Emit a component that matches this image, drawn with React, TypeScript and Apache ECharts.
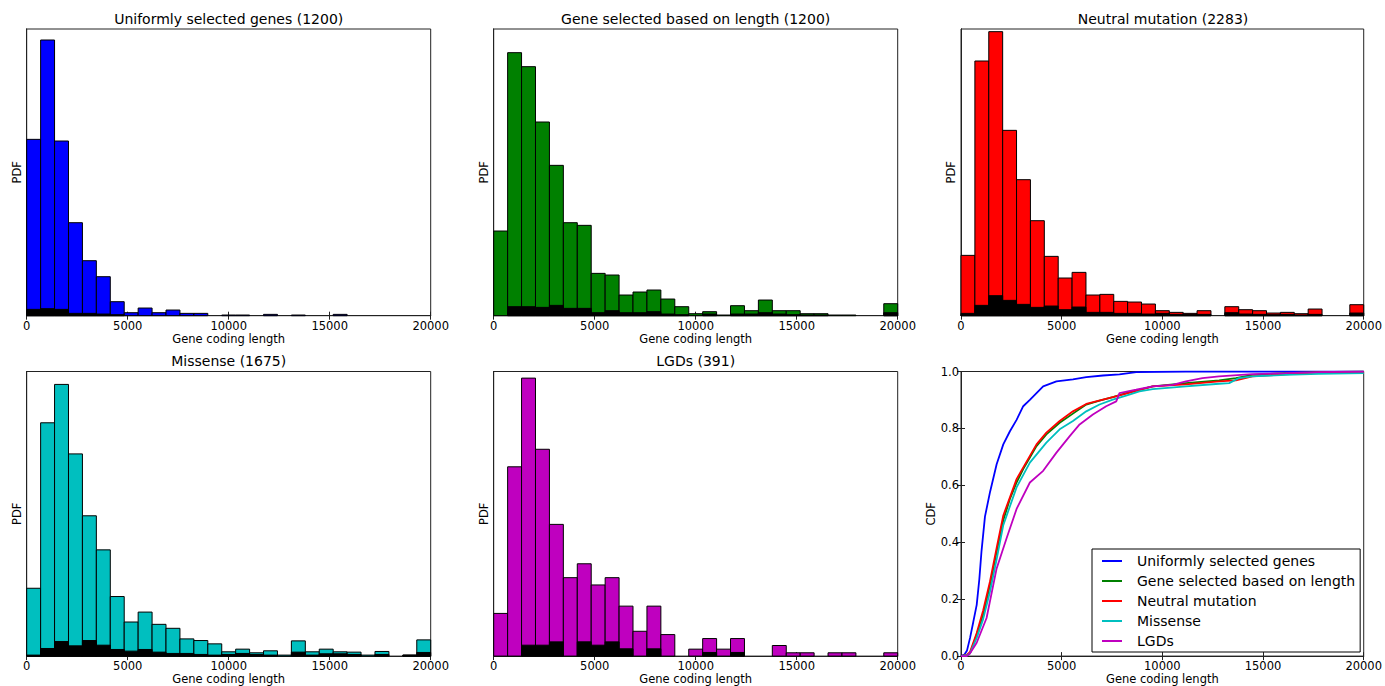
import React, { useEffect, useRef } from "react";
import * as echarts from "echarts";

// histogram bins: 29 equal bins over 0..20000, heights in arbitrary PDF units
const BIN_COUNT = 29;
const X_MAX = 20000;
const PDF_MAX = 860;

const panelTitles = [
    "Uniformly selected genes (1200)",
    "Gene selected based on length (1200)",
    "Neutral mutation (2283)",
    "Missense (1675)",
    "LGDs (391)",
];
const histColors = ["#0000ff", "#008000", "#ff0000", "#00bfbf", "#bf00bf"];

const uniformAll = [529, 827, 524, 279, 165, 117, 42, 9, 23, 9, 17, 7, 7, 0, 2, 2, 0, 4, 0, 2, 0, 0, 4, 0, 0, 0, 0, 0, 0];
const uniformBlack = [19, 21, 19, 7, 7, 5, 3, 0, 0, 0, 0, 0, 0, 0, 0, 0, 0, 0, 0, 0, 0, 0, 0, 0, 0, 0, 0, 0, 0];

const lengthAll = [254, 789, 747, 581, 451, 279, 271, 127, 122, 62, 71, 77, 50, 27, 6, 12, 2, 30, 15, 47, 15, 15, 6, 6, 2, 2, 0, 0, 36];
const lengthBlack = [0, 27, 27, 25, 31, 22, 22, 9, 15, 9, 9, 12, 5, 3, 0, 5, 0, 5, 5, 9, 5, 3, 2, 2, 0, 0, 0, 0, 9];

const neutralAll = [181, 764, 852, 556, 408, 285, 178, 113, 130, 62, 64, 43, 41, 35, 15, 10, 7, 15, 0, 27, 18, 15, 8, 10, 6, 20, 0, 0, 33];
const neutralBlack = [7, 31, 60, 46, 34, 25, 29, 18, 26, 10, 10, 7, 7, 5, 7, 4, 4, 4, 0, 9, 5, 4, 3, 4, 2, 4, 0, 0, 8];

const missenseAll = [205, 705, 821, 611, 424, 321, 180, 103, 133, 96, 84, 52, 47, 37, 13, 21, 10, 16, 3, 46, 13, 21, 13, 12, 3, 14, 0, 3, 49];
const missenseBlack = [3, 23, 44, 31, 47, 33, 20, 15, 20, 12, 8, 8, 5, 3, 5, 8, 5, 3, 0, 12, 3, 7, 7, 5, 0, 5, 0, 3, 11];

const lgdsAll = [129, 572, 840, 625, 398, 237, 279, 215, 237, 151, 75, 151, 65, 0, 21, 53, 21, 53, 0, 0, 32, 10, 10, 0, 10, 10, 0, 0, 10];
const lgdsBlack = [0, 0, 33, 33, 43, 0, 43, 33, 43, 22, 0, 22, 0, 0, 0, 11, 0, 11, 0, 0, 0, 0, 0, 0, 0, 0, 0, 0, 0];

const histAll = [uniformAll, lengthAll, neutralAll, missenseAll, lgdsAll];
const histBlack = [uniformBlack, lengthBlack, neutralBlack, missenseBlack, lgdsBlack];

// CDF curves, [gene coding length, cdf]
const cdfNames = [
    "Uniformly selected genes",
    "Gene selected based on length",
    "Neutral mutation",
    "Missense",
    "LGDs",
];
const cdfUniform = [
    [0, 0], [165, 0.005], [300, 0.02], [450, 0.064], [610, 0.12], [780, 0.18], [910, 0.27],
    [1020, 0.37], [1190, 0.49], [1440, 0.576], [1770, 0.674], [2100, 0.744], [2430, 0.79],
    [2760, 0.83], [3090, 0.878], [3420, 0.9], [3750, 0.924], [4080, 0.948], [4740, 0.965],
    [5560, 0.972], [6220, 0.98], [7050, 0.986], [7870, 0.99], [8700, 0.998], [11170, 1.0], [20000, 1.0],
];
const cdfLength = [
    [0, 0], [300, 0.003], [450, 0.01], [780, 0.076], [1100, 0.145], [1440, 0.25], [1770, 0.366],
    [2100, 0.477], [2430, 0.552], [2760, 0.61], [3090, 0.657], [3750, 0.738], [4240, 0.779],
    [4900, 0.82], [5560, 0.852], [6220, 0.884], [6880, 0.898], [7540, 0.91], [8200, 0.924],
    [9520, 0.948], [11170, 0.959], [12820, 0.969], [13650, 0.977], [14470, 0.988], [16120, 0.994],
    [17770, 0.998], [20000, 1.0],
];
const cdfNeutral = [
    [0, 0], [300, 0.005], [450, 0.015], [780, 0.081], [1100, 0.16], [1440, 0.262], [1770, 0.38],
    [2100, 0.494], [2760, 0.622], [3750, 0.744], [4240, 0.785], [4900, 0.826], [5560, 0.86],
    [6220, 0.886], [7540, 0.91], [8200, 0.922], [9520, 0.948], [11170, 0.955], [12820, 0.965],
    [13650, 0.969], [14470, 0.983], [16120, 0.99], [17770, 0.997], [20000, 0.998],
];
const cdfMissense = [
    [0, 0], [300, 0.003], [450, 0.01], [780, 0.064], [1100, 0.13], [1440, 0.227], [1770, 0.34],
    [2100, 0.46], [2760, 0.593], [3420, 0.68], [4240, 0.75], [4900, 0.797], [5560, 0.826],
    [6220, 0.86], [6880, 0.884], [7540, 0.901], [8200, 0.915], [8860, 0.93], [9520, 0.938],
    [11170, 0.948], [12820, 0.957], [13320, 0.959], [13810, 0.977], [14470, 0.983], [16120, 0.988],
    [17770, 0.992], [20000, 0.994],
];
const cdfLgds = [
    [0, 0], [280, 0], [450, 0.01], [780, 0.047], [1270, 0.134], [1770, 0.308], [2260, 0.413],
    [2760, 0.517], [3420, 0.61], [4080, 0.651], [4740, 0.715], [5400, 0.773], [5890, 0.814],
    [6550, 0.849], [7210, 0.878], [7710, 0.895], [7870, 0.924], [8700, 0.936], [9520, 0.948],
    [10510, 0.953], [11170, 0.965], [11990, 0.977], [12820, 0.983], [14470, 0.991], [16120, 0.994],
    [17770, 0.998], [20000, 1.0],
];
const cdfData = [cdfUniform, cdfLength, cdfNeutral, cdfMissense, cdfLgds];

// layout of the 2x3 panels, in page pixels
const grids = [
    { left: 26.7, top: 29, width: 404, height: 286.7 },
    { left: 493.7, top: 29, width: 404, height: 286.7 },
    { left: 961, top: 29, width: 404, height: 286.7 },
    { left: 26.7, top: 371.5, width: 404, height: 286.5 },
    { left: 493.7, top: 371.5, width: 404, height: 286.5 },
    { left: 961, top: 371.5, width: 404, height: 286.5 },
];

const FONT = "DejaVu Sans";
const FRAME = "#222";

const toBins = (heights: number[]) =>
    heights.map((h, i) => [(i * X_MAX) / BIN_COUNT, ((i + 1) * X_MAX) / BIN_COUNT, h]);

const barRenderer = (fill: string) => (_params: any, api: any) => {
    const h = api.value(2);
    if (!h) return null;
    const p0 = api.coord([api.value(0), h]);
    const p1 = api.coord([api.value(1), 0]);
    return {
        type: "rect",
        shape: { x: p0[0], y: p0[1], width: p1[0] - p0[0], height: p1[1] - p0[1] },
        style: { fill, stroke: "#000", lineWidth: 1 },
    };
};

const App: React.FC = () => {
    const chartRef = useRef<HTMLDivElement>(null);

    useEffect(() => {
        if (!chartRef.current) return;
        const chart = echarts.init(chartRef.current, undefined, { renderer: "svg" });

        const xAxes: any[] = [];
        const yAxes: any[] = [];
        grids.forEach((_g, i) => {
            const base = {
                type: "value",
                gridIndex: i,
                min: 0,
                max: X_MAX,
                interval: 5000,
                splitLine: { show: false },
                axisLine: { lineStyle: { color: FRAME, width: 1 } },
                axisTick: { inside: true, length: 4, lineStyle: { color: FRAME } },
            };
            xAxes.push({
                ...base,
                position: "bottom",
                name: "Gene coding length",
                nameLocation: "middle",
                nameGap: 16,
                nameTextStyle: { fontSize: 11.5, color: "#000", fontFamily: FONT },
                axisLabel: {
                    fontSize: 11.5,
                    color: "#000",
                    margin: 4,
                    fontFamily: FONT,
                    formatter: (v: number) => String(v),
                },
            });
            xAxes.push({ ...base, position: "top", axisLabel: { show: false } });

            const isCdf = i === 5;
            const yBase = {
                type: "value",
                gridIndex: i,
                min: 0,
                max: isCdf ? 1 : PDF_MAX,
                interval: isCdf ? 0.2 : PDF_MAX,
                splitLine: { show: false },
                axisLine: { lineStyle: { color: FRAME, width: 1 } },
                axisTick: { show: isCdf, inside: true, length: 4, lineStyle: { color: FRAME } },
            };
            yAxes.push({
                ...yBase,
                position: "left",
                name: isCdf ? "CDF" : "PDF",
                nameLocation: "middle",
                nameGap: isCdf ? 23 : 4,
                nameTextStyle: { fontSize: 11.5, color: "#000", fontFamily: FONT },
                axisLabel: {
                    show: isCdf,
                    fontSize: 11.5,
                    color: "#000",
                    margin: 2,
                    fontFamily: FONT,
                    formatter: (v: number) => v.toFixed(1),
                },
            });
            yAxes.push({ ...yBase, position: "right", axisLabel: { show: false } });
        });

        const series: any[] = [];
        histAll.forEach((heights, i) => {
            series.push({
                type: "custom",
                xAxisIndex: i * 2,
                yAxisIndex: i * 2,
                renderItem: barRenderer(histColors[i]),
                encode: { x: [0, 1], y: 2 },
                data: toBins(heights),
                silent: true,
            });
            series.push({
                type: "custom",
                xAxisIndex: i * 2,
                yAxisIndex: i * 2,
                renderItem: barRenderer("#000"),
                encode: { x: [0, 1], y: 2 },
                data: toBins(histBlack[i]),
                silent: true,
                z: 3,
            });
        });
        cdfData.forEach((points, i) => {
            series.push({
                type: "line",
                name: cdfNames[i],
                xAxisIndex: 10,
                yAxisIndex: 10,
                data: points,
                showSymbol: false,
                color: histColors[i],
                itemStyle: { color: histColors[i] },
                lineStyle: { color: histColors[i], width: 1.8 },
                z: 3 + i,
            });
        });

        const options: any = {
            animation: false,
            backgroundColor: "#fff",
            textStyle: { fontFamily: FONT, color: "#000" },
            title: panelTitles.map((text, i) => ({
                text,
                left: grids[i].left + grids[i].width / 2,
                top: i < 3 ? 12 : 354,
                textAlign: "center",
                padding: 0,
                textStyle: { fontSize: 14, fontWeight: "normal", color: "#000", fontFamily: FONT },
            })),
            legend: {
                data: cdfNames,
                orient: "vertical",
                left: 1092,
                top: 549,
                padding: [4, 5, 3, 10],
                itemGap: 4,
                itemWidth: 20,
                itemHeight: 2,
                icon: "rect",
                borderColor: "#000",
                borderWidth: 1,
                backgroundColor: "#fff",
                selectedMode: false,
                textStyle: {
                    fontSize: 14,
                    lineHeight: 16,
                    color: "#000",
                    fontFamily: FONT,
                    padding: [0, 0, 0, 10],
                },
                z: 10,
            },
            grid: grids.map((g) => ({
                ...g,
                show: true,
                borderColor: FRAME,
                borderWidth: 1,
                backgroundColor: "#fff",
                containLabel: false,
            })),
            xAxis: xAxes,
            yAxis: yAxes,
            series,
        };

        chart.setOption(options);

        const handleResize = () => chart.resize();
        window.addEventListener("resize", handleResize);
        return () => {
            window.removeEventListener("resize", handleResize);
            chart.dispose();
        };
    }, []);

    return (
        <div
            ref={chartRef}
            style={{ position: "fixed", left: 0, top: 0, width: "1385px", height: "686px" }}
        />
    );
};

export default App;
